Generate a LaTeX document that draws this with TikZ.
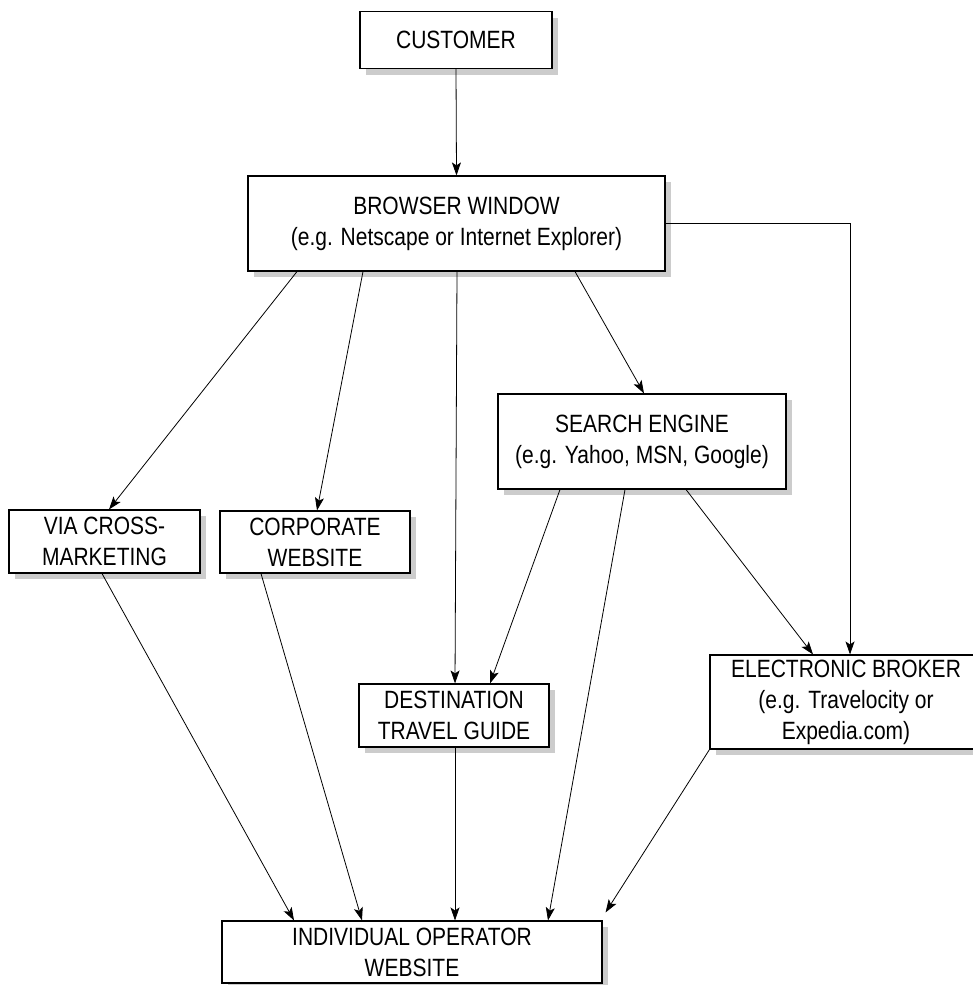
\documentclass[tikz,border=0pt]{standalone}
\usepackage{fontspec}
\setmainfont{Liberation Sans}[FakeStretch=0.84]
\usepackage{tikz}
\usetikzlibrary{positioning, shadows, arrows.meta}

\begin{document}
\begin{tikzpicture}[x=1pt, y=-1pt, ->, >={Stealth[length=13pt,width=9pt,inset=3pt]}, line width=0.8pt,
  box/.style={draw, fill=white, rectangle, line width=1.1pt, inner sep=0pt, align=center,
    font=\fontsize{25}{31}\selectfont,
    drop shadow={shadow xshift=6pt, shadow yshift=-6pt, fill=black!20, opacity=1}}]
  \useasboundingbox (0,0) rectangle (973,985);

  \node[box, minimum width=192pt, minimum height=57pt] (customer) at (456,40) {CUSTOMER};
  \node[box, minimum width=417pt, minimum height=95pt] (browser) at (456.5,223.5) {BROWSER WINDOW\\(e.g. Netscape or Internet Explorer)};
  \node[box, minimum width=288pt, minimum height=95pt] (search) at (642,441.5) {SEARCH ENGINE\\(e.g. Yahoo, MSN, Google)};
  \node[box, minimum width=191pt, minimum height=63pt] (cross) at (104.5,541.5) {VIA CROSS-\\MARKETING};
  \node[box, minimum width=190pt, minimum height=62pt] (corp) at (315,542) {CORPORATE\\WEBSITE};
  \node[box, minimum width=190pt, minimum height=63pt] (dest) at (454,715.5) {DESTINATION\\TRAVEL GUIDE};
  \node[box, minimum width=272pt, minimum height=94pt] (broker) at (846,702) {ELECTRONIC BROKER\\(e.g. Travelocity or\\Expedia.com)};
  \node[box, minimum width=380pt, minimum height=62pt] (operator) at (412,952) {INDIVIDUAL OPERATOR\\WEBSITE};

  \path
    (customer.south) edge (browser.north)
    ([xshift=-159.5pt]browser.south) edge ([xshift=4.5pt]cross.north)
    ([xshift=-93.5pt]browser.south) edge ([xshift=2pt]corp.north)
    ([xshift=0.5pt]browser.south) edge ([xshift=1pt]dest.north)
    ([xshift=118.5pt]browser.south) edge ([xshift=2pt]search.north)
    ([xshift=-82pt]search.south) edge ([xshift=36pt]dest.north)
    ([xshift=-17pt]search.south) edge ([xshift=136pt]operator.north)
    ([xshift=44pt]search.south) edge ([xshift=-33pt]broker.north)
    ([xshift=-2.5pt]cross.south) edge ([xshift=-118pt]operator.north)
    ([xshift=-54pt]corp.south) edge ([xshift=-50pt]operator.north)
    ([xshift=1pt]dest.south) edge ([xshift=43pt]operator.north)
    (broker.south west) edge ([xshift=3pt,yshift=8pt]operator.north east);
  \draw (browser.east) -| ([xshift=4pt]broker.north);

\end{tikzpicture}
\end{document}
